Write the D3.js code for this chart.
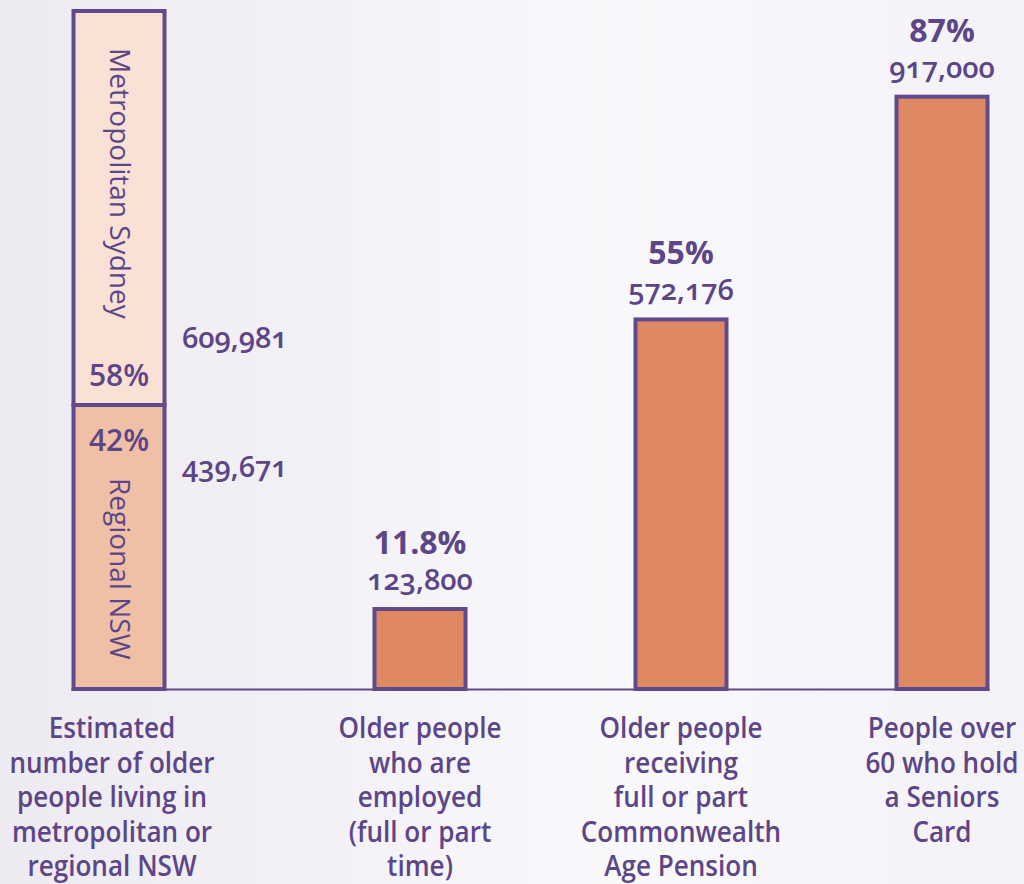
<!DOCTYPE html>
<html><head><meta charset="utf-8">
<script src="https://cdn.jsdelivr.net/npm/d3@7"></script>
<style>
html,body{margin:0;padding:0;}
body{width:1024px;height:884px;overflow:hidden;}
text{font-family:"Open Sans","Noto Sans",sans-serif;fill:#5c4687;}
</style></head><body>
<svg id="c" width="1024" height="884"></svg>
<script>
const stackCategory = "regional";
const categories = ["employed", "pension", "seniors"];
const metroValue = 609981;
const regionalValue = 439671;
const metroPct = "58%";
const regionalPct = "42%";
const barValues = [123800, 572176, 917000];
const pctLabels = ["11.8%", "55%", "87%"];
const valueLabels = ["123,800", "572,176", "917,000"];
const stackLabel = ["Estimated", "number of older", "people living in", "metropolitan or", "regional NSW"];
const catLabels = [
  ["Older people", "who are", "employed", "(full or part", "time)"],
  ["Older people", "receiving", "full or part", "Commonwealth", "Age Pension"],
  ["People over", "60 who hold", "a Seniors", "Card"]
];

const svg = d3.select("#c");
const defs = svg.append("defs");
const g = defs.append("linearGradient").attr("id","bg").attr("x1","0").attr("x2","1").attr("y1","0").attr("y2","0");
g.append("stop").attr("offset","0").attr("stop-color","#edeaf1");
g.append("stop").attr("offset","0.6").attr("stop-color","#f9f8fb");
g.append("stop").attr("offset","1").attr("stop-color","#f4f2f7");
svg.append("rect").attr("width",1024).attr("height",884).attr("fill","url(#bg)");

const purple = "#614a8a";
const xStack = d3.scalePoint().domain([stackCategory]).range([119, 119]);
const x = d3.scalePoint().domain(categories).range([420, 942]);
const total = metroValue + regionalValue;
const y = d3.scaleLinear().domain([0, total]).range([689, 11]);
const bw = 91;

// baseline
svg.append("line").attr("x1", xStack(stackCategory) - bw/2 - 2).attr("x2", x(categories[2]) + bw/2 + 2)
  .attr("y1", y(0) + 0.5).attr("y2", y(0) + 0.5).attr("stroke", purple).attr("stroke-width", 2);

// stacked first bar
const c0 = xStack(stackCategory);
svg.append("rect").attr("x", c0 - bw/2).attr("width", bw)
  .attr("y", y(regionalValue)).attr("height", y(0) - y(regionalValue))
  .attr("fill", "#efc0a5").attr("stroke", purple).attr("stroke-width", 4);
svg.append("rect").attr("x", c0 - bw/2).attr("width", bw)
  .attr("y", y(total)).attr("height", y(regionalValue) - y(total))
  .attr("fill", "#f9e1d6").attr("stroke", purple).attr("stroke-width", 4);

// other bars
const others = categories.map((c, i) => ({c, v: barValues[i], p: pctLabels[i], l: valueLabels[i]}));
svg.selectAll("rect.bar").data(others).enter().append("rect").attr("class","bar")
  .attr("x", d => x(d.c) - bw/2).attr("width", bw)
  .attr("y", d => y(d.v)).attr("height", d => y(0) - y(d.v))
  .attr("fill", "#df8964").attr("stroke", purple).attr("stroke-width", 4);

// value labels above bars
svg.selectAll("text.pct").data(others).enter().append("text").attr("class","pct")
  .attr("x", d => x(d.c)).attr("y", d => y(d.v) - 55)
  .attr("text-anchor","middle").attr("font-size", 32).attr("font-weight", 700).text(d => d.p);
svg.selectAll("text.val").data(others).enter().append("text").attr("class","val")
  .attr("x", d => x(d.c)).attr("y", d => y(d.v) - 19)
  .attr("text-anchor","middle").attr("font-size", 29).attr("font-weight", 600)
  .style("font-variant-numeric","oldstyle-nums").text(d => d.l);

// first bar inner labels
svg.append("text").attr("x", c0).attr("y", y(regionalValue) - 19).attr("text-anchor","middle")
  .attr("font-size", 30).attr("font-weight", 600).text(metroPct);
svg.append("text").attr("x", c0).attr("y", y(regionalValue) + 46).attr("text-anchor","middle")
  .attr("font-size", 30).attr("font-weight", 600).text(regionalPct);
svg.append("text").attr("transform", `translate(${c0 - 9},${y(total) + 37}) rotate(90)`)
  .attr("font-size", 28).attr("font-weight", 400).text("Metropolitan Sydney");
svg.append("text").attr("transform", `translate(${c0 - 9},${y(regionalValue) + 73}) rotate(90)`)
  .attr("font-size", 28).attr("font-weight", 400).text("Regional NSW");

// side numbers
svg.append("text").attr("x", 182).attr("y", 348).attr("font-size", 29).attr("font-weight", 600)
  .style("font-variant-numeric","oldstyle-nums").text(d3.format(",")(metroValue));
svg.append("text").attr("x", 182).attr("y", 477).attr("font-size", 29).attr("font-weight", 600)
  .style("font-variant-numeric","oldstyle-nums").text(d3.format(",")(regionalValue));

// category labels
const allLabels = [{pos: c0 - 7, lines: stackLabel}].concat(categories.map((c, i) => ({pos: x(c), lines: catLabels[i]})));
const lab = svg.selectAll("g.lab").data(allLabels).enter().append("g").attr("class","lab")
  .attr("transform", d => `translate(${d.pos},0) scale(0.9,1)`);
lab.selectAll("text").data(d => d.lines).enter().append("text")
  .attr("x", 0).attr("y", (d, j) => 738 + j * 34.6).attr("text-anchor","middle")
  .attr("font-size", 29).attr("font-weight", 600).text(d => d);
</script>
</body></html>
